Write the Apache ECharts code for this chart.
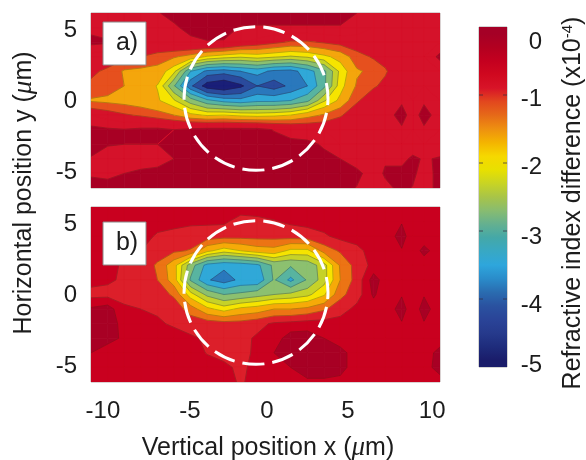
<!DOCTYPE html>
<html><head><meta charset="utf-8">
<style>html,body{margin:0;padding:0;background:#fff}#c{width:586px;height:460px}</style>
<script src="https://cdn.jsdelivr.net/npm/echarts@6/dist/echarts.min.js"></script>
</head><body><div id="c"></div>
<script>
var xNodes=[-10.76,-9.74,-8.73,-7.71,-6.69,-5.69,-4.67,-3.65,-2.63,-1.61,-0.59,0.43,1.45,2.47,3.49,4.48,5.5,6.52,7.22,8.24,8.91,9.6,10.58];
var yNodes=[6.2,5.175,4.15,3.125,2.1,1.075,0.05,-0.975,-2,-3.025,-4.05,-5.075,-6.1];
var panelA=[
[-0.5,-0.5,-0.5,-0.5,-0.32,-0.2,-0.15,-0.15,-0.15,-0.15,-0.15,-0.15,-0.15,-0.15,-0.15,-0.15,-0.3,-0.6,-0.6,-0.6,-0.6,-0.6,-0.6],
[-0.4,-0.5,-0.55,-0.55,-0.5,-0.35,-0.2,-0.15,-0.2,-0.32,-0.33,-0.33,-0.33,-0.33,-0.33,-0.33,-0.5,-0.6,-0.6,-0.6,-0.6,-0.6,-0.6],
[-0.2,-0.25,-0.5,-0.6,-0.55,-0.45,-0.38,-0.32,-0.32,-0.55,-0.7,-0.85,-1.0,-1.0,-0.9,-0.8,-0.7,-0.6,-0.6,-0.6,-0.6,-0.6,-0.6],
[-0.75,-0.8,-0.85,-0.95,-1.1,-1.25,-1.45,-1.75,-1.9,-2.0,-1.9,-2.0,-2.1,-2.0,-1.8,-1.55,-1.1,-0.9,-0.8,-0.65,-0.6,-0.6,-0.2],
[-0.9,-1.0,-1.35,-1.4,-1.45,-1.95,-3.2,-3.7,-3.8,-3.6,-3.45,-3.7,-3.75,-3.4,-2.9,-1.95,-1.35,-1.2,-1.0,-0.65,-0.6,-0.6,-0.6],
[-1.0,-1.1,-1.3,-1.5,-1.72,-2.75,-3.9,-4.75,-4.95,-4.6,-4.0,-4.2,-3.9,-3.6,-2.9,-1.85,-1.25,-1.0,-0.85,-0.6,-0.6,-0.6,-0.6],
[-1.35,-1.4,-1.45,-1.55,-1.65,-2.0,-2.6,-3.1,-3.35,-3.45,-3.3,-3.3,-3.2,-2.9,-2.1,-1.6,-1.0,-0.7,-0.6,-0.4,-0.6,-0.4,-0.6],
[-0.6,-0.75,-0.9,-1.0,-1.15,-1.3,-1.6,-1.75,-1.7,-1.8,-1.85,-1.8,-1.7,-1.45,-1.25,-1.0,-0.7,-0.6,-0.6,-0.05,-0.6,-0.05,-0.6],
[-0.2,-0.25,-0.28,-0.22,-0.2,-0.3,-0.2,-0.15,-0.15,-0.15,-0.15,-0.32,-0.45,-0.55,-0.6,-0.6,-0.6,-0.6,-0.6,-0.4,-0.6,-0.4,-0.6],
[-0.2,-0.27,-0.3,-0.3,-0.3,-0.25,-0.15,-0.15,-0.15,-0.15,-0.15,-0.15,-0.2,-0.2,-0.35,-0.6,-0.6,-0.6,-0.6,-0.6,-0.6,-0.6,-0.6],
[-0.32,-0.5,-0.55,-0.55,-0.5,-0.3,-0.15,-0.15,-0.15,-0.15,-0.15,-0.15,-0.15,-0.15,-0.2,-0.3,-0.5,-0.32,-0.35,-0.45,-0.2,-0.35,-0.25],
[-0.35,-0.4,-0.3,-0.2,-0.15,-0.15,-0.15,-0.15,-0.15,-0.15,-0.15,-0.15,-0.15,-0.15,-0.15,-0.15,-0.2,-0.5,-0.25,-0.15,-0.2,-0.5,-0.15],
[-0.15,-0.15,-0.15,-0.15,-0.15,-0.15,-0.15,-0.15,-0.15,-0.15,-0.15,-0.15,-0.15,-0.15,-0.15,-0.15,-0.32,-0.6,-0.4,-0.2,-0.32,-0.5,-0.15]
];
var panelB=[
[-0.45,-0.45,-0.45,-0.45,-0.45,-0.55,-0.45,-0.45,-0.45,-0.45,-0.45,-0.45,-0.45,-0.45,-0.45,-0.45,-0.45,-0.45,-0.45,-0.45,-0.45,-0.45,-0.45],
[-0.45,-0.45,-0.45,-0.45,-0.45,-0.5,-0.55,-0.55,-0.55,-0.72,-0.68,-0.62,-0.55,-0.5,-0.45,-0.45,-0.45,-0.45,-0.45,-0.32,-0.45,-0.45,-0.45],
[-0.45,-0.45,-0.45,-0.45,-0.65,-0.7,-0.72,-0.75,-0.8,-0.82,-0.82,-0.82,-0.78,-0.75,-0.65,-0.5,-0.45,-0.45,-0.45,-0.2,-0.45,-0.45,-0.45],
[-0.45,-0.45,-0.45,-0.6,-0.78,-0.88,-0.98,-1.6,-1.9,-1.7,-1.5,-1.45,-1.8,-1.8,-1.15,-0.9,-0.7,-0.45,-0.45,-0.32,-0.45,-0.22,-0.45],
[-0.45,-0.5,-0.65,-0.75,-1.0,-1.55,-2.6,-3.35,-3.5,-3.45,-3.3,-2.7,-2.75,-2.65,-2.2,-1.25,-0.8,-0.5,-0.45,-0.45,-0.45,-0.45,-0.45],
[-0.5,-0.55,-0.65,-0.72,-0.95,-1.5,-2.85,-3.55,-3.8,-3.5,-3.5,-2.75,-3.3,-2.75,-2.2,-1.3,-0.8,-0.15,-0.45,-0.45,-0.45,-0.45,-0.45],
[-0.7,-0.7,-0.7,-0.72,-0.8,-1.0,-1.9,-2.5,-2.8,-2.7,-2.55,-2.4,-2.3,-2.15,-1.75,-1.05,-0.75,-0.25,-0.5,-0.32,-0.45,-0.32,-0.45],
[-0.25,-0.15,-0.55,-0.6,-0.65,-0.75,-1.1,-1.6,-1.85,-1.6,-1.5,-1.3,-1.3,-1.2,-1.0,-0.75,-0.5,-0.45,-0.45,-0.2,-0.45,-0.2,-0.45],
[-0.15,-0.15,-0.4,-0.5,-0.55,-0.65,-0.75,-0.75,-0.8,-0.8,-0.7,-0.55,-0.5,-0.45,-0.45,-0.45,-0.45,-0.45,-0.45,-0.32,-0.45,-0.32,-0.45],
[-0.15,-0.2,-0.35,-0.45,-0.45,-0.45,-0.55,-0.65,-0.75,-0.7,-0.55,-0.45,-0.15,-0.15,-0.3,-0.45,-0.45,-0.45,-0.45,-0.45,-0.45,-0.45,-0.45],
[-0.3,-0.45,-0.45,-0.45,-0.45,-0.45,-0.45,-0.62,-0.75,-0.75,-0.5,-0.3,-0.1,-0.25,-0.15,-0.2,-0.45,-0.45,-0.45,-0.45,-0.45,-0.45,-0.2],
[-0.45,-0.45,-0.45,-0.45,-0.45,-0.45,-0.45,-0.45,-0.5,-0.7,-0.45,-0.45,-0.3,-0.15,-0.15,-0.2,-0.45,-0.45,-0.45,-0.45,-0.45,-0.45,-0.15],
[-0.45,-0.45,-0.45,-0.45,-0.45,-0.45,-0.45,-0.45,-0.45,-0.65,-0.45,-0.45,-0.38,-0.35,-0.35,-0.38,-0.45,-0.45,-0.45,-0.45,-0.45,-0.45,-0.45]
];
var contourLevels=[-0.3,-0.6,-0.95,-1.3,-1.7,-2.05,-2.4,-2.8,-3.2,-3.6,-4.0,-4.5];
var bandColorsA=['#a80024','#d5122a','#d5122a','#e6501e','#f4a60c','#f6e400','#c6d228','#8cc070','#58b4a0','#30a8d8','#2a78bc','#2a4a9c','#1a1f78'];
var bandColorsB=['#a80024','#c9001f','#dc1f2a','#ec7414','#f6aa08','#f6e400','#c6d228','#8cc070','#58b4a0','#30a8d8','#2a78bc','#2a4a9c','#1a1f78'];
var circle=[[-0.67,0.19,4.4,5.05]];
var xTickValues=[-10.03,-4.71,0,4.95,10.1];
var yTickValues=[5,0,-5];
var colorbarRange=[[0,-5]];
var colorbarColors=['#a50026','#b30020','#c4001f','#d0081f','#d81428','#e2481e','#e66a18','#ee9010','#f4b400','#f6d800','#e8e000','#c8d424','#a8c448','#88bc70','#64b090','#44a8a8','#38a8c4','#2ea6dc','#2a8cca','#2a6cb0','#2a52a0','#2a4498','#263a8c','#1e2c7c','#1a1c6a'];
var colorbarTicks=[-1,-2,-3,-4];
var colorbarLabelValues=[-0.22,-1.06,-2.07,-3.09,-4.09,-4.97];

function cellCorners(rows,api,i,j){
  return [
    {p:api.coord([xNodes[i],yNodes[j]]),v:rows[j][i]},
    {p:api.coord([xNodes[i+1],yNodes[j]]),v:rows[j][i+1]},
    {p:api.coord([xNodes[i+1],yNodes[j+1]]),v:rows[j+1][i+1]},
    {p:api.coord([xNodes[i],yNodes[j+1]]),v:rows[j+1][i]}];
}
function cross(a,b,L){
  var t=(L-a.v)/(b.v-a.v);
  return [a.p[0]+t*(b.p[0]-a.p[0]),a.p[1]+t*(b.p[1]-a.p[1])];
}
function eachCell(fn){
  for(var j=0;j<yNodes.length-1;j++)for(var i=0;i<xNodes.length-1;i++)fn(i,j);
}
// data item = one band; every band paints the region at or below its upper contour
function fillRender(rows,colors){
  return function(params,api){
    var k=api.value(0),kids=[],col=colors[k];
    eachCell(function(i,j){
      var c=cellCorners(rows,api,i,j),pts=[];
      if(k===0){pts=[c[0].p,c[1].p,c[2].p,c[3].p];}
      else{
        var L=contourLevels[k-1];
        for(var n=0;n<4;n++){
          var a=c[n],b=c[(n+1)%4];
          if(a.v<=L)pts.push(a.p);
          if((a.v<=L)!==(b.v<=L))pts.push(cross(a,b,L));
        }
      }
      if(pts.length>2)kids.push({type:'polygon',shape:{points:pts},style:{fill:col,stroke:col,lineWidth:0.8}});
    });
    return {type:'group',children:kids};
  };
}
function lineRender(rows,colors){
  return function(params,api){
    var k=api.value(0),kids=[],L=contourLevels[k];
    if(colors[k]===colors[k+1])return {type:'group',children:[]};
    eachCell(function(i,j){
      var c=cellCorners(rows,api,i,j),pts=[];
      for(var n=0;n<4;n++){
        var a=c[n],b=c[(n+1)%4];
        if((a.v<=L)!==(b.v<=L))pts.push(cross(a,b,L));
      }
      for(var m=0;m+1<pts.length;m+=2){
        kids.push({type:'line',shape:{x1:pts[m][0],y1:pts[m][1],x2:pts[m+1][0],y2:pts[m+1][1]},
          style:{stroke:'rgba(40,30,30,0.4)',lineWidth:0.7}});
      }
    });
    return {type:'group',children:kids};
  };
}
function circleRender(params,api){
  var c=api.coord([api.value(0),api.value(1)]);
  var s=api.size([api.value(2),api.value(3)]);
  return {type:'ellipse',shape:{cx:c[0],cy:c[1],rx:s[0],ry:s[1]},
    style:{fill:'none',stroke:'#fff',lineWidth:3,lineDash:[22,8]}};
}
function panelSeries(rows,colors,idx){
  var bands=colors.map(function(c,k){return [k];});
  var lines=contourLevels.map(function(l,k){return [k];});
  return [
    {type:'custom',xAxisIndex:idx,yAxisIndex:idx,clip:true,silent:true,encode:{x:-1,y:-1},data:bands,renderItem:fillRender(rows,colors),z:2},
    {type:'custom',xAxisIndex:idx,yAxisIndex:idx,clip:true,silent:true,encode:{x:-1,y:-1},data:lines,renderItem:lineRender(rows,colors),z:3},
    {type:'custom',xAxisIndex:idx,yAxisIndex:idx,clip:true,silent:true,encode:{x:0,y:1},data:circle,renderItem:circleRender,z:4}
  ];
}
var FONT='"Liberation Sans",Arial,sans-serif';
var TXT='#1c1c1c';
function mainX(idx,show){
  return {type:'value',gridIndex:idx,min:-10.76,max:10.58,splitLine:{show:false},axisLine:{show:false},axisTick:{show:false},
    axisLabel:{show:show,customValues:xTickValues,margin:17,fontFamily:FONT,fontSize:24,color:TXT,hideOverlap:false,
      formatter:function(v){return String(5*Math.round(v/5));}}};
}
function mainY(idx){
  return {type:'value',gridIndex:idx,min:-6.1,max:6.2,splitLine:{show:false},axisLine:{show:false},axisTick:{show:false},
    axisLabel:{customValues:yTickValues,margin:14,fontFamily:FONT,fontSize:24,color:TXT,hideOverlap:false,
      formatter:function(v){return String(v);}}};
}
function box(x,y,label){
  return [
    {type:'rect',z:99,shape:{x:x,y:y,width:43,height:43},style:{fill:'#fff',stroke:'#8a8a8a',lineWidth:1}},
    {type:'text',z:100,x:x+24,y:y+21,style:{text:label,fill:TXT,font:'25px '+FONT,align:'center',verticalAlign:'middle'}}
  ];
}
var base={fontFamily:FONT,fontSize:25,fill:TXT};
var mu={fontFamily:'"Liberation Serif",serif',fontStyle:'italic',fontSize:27,fill:TXT};
var barStops=colorbarColors.map(function(c,i){return {offset:(i+0.5)/colorbarColors.length,color:c};});
var option={
  animation:false,backgroundColor:'#fff',
  grid:[
    {left:91,top:13,width:349,height:175,show:true,borderColor:'#b5a5a5',borderWidth:1,backgroundColor:'transparent'},
    {left:91,top:207,width:349,height:175,show:true,borderColor:'#b5a5a5',borderWidth:1,backgroundColor:'transparent'},
    {left:479,top:27,width:28,height:340,show:true,borderColor:'#aaa',borderWidth:1,backgroundColor:'transparent'}
  ],
  xAxis:[mainX(0,false),mainX(1,true),{type:'value',gridIndex:2,min:0,max:1,show:false}],
  yAxis:[mainY(0),mainY(1),
    {type:'value',gridIndex:2,min:-5,max:0,position:'right',splitLine:{show:false},axisLine:{show:false},axisTick:{show:false},
      axisLabel:{customValues:colorbarLabelValues,margin:35,align:'right',fontFamily:FONT,fontSize:24,color:TXT,hideOverlap:false,
        formatter:function(v){var r=Math.round(v);return r===0?'0':String(r);}}}
  ],
  series:panelSeries(panelA,bandColorsA,0).concat(panelSeries(panelB,bandColorsB,1)).concat([
    {type:'custom',xAxisIndex:2,yAxisIndex:2,silent:true,encode:{y:[0,1]},data:colorbarRange,z:2,
      renderItem:function(params,api){
        var a=api.coord([0,api.value(0)]),b=api.coord([1,api.value(1)]);
        return {type:'rect',shape:{x:a[0],y:a[1],width:b[0]-a[0],height:b[1]-a[1]},
          style:{fill:new echarts.graphic.LinearGradient(0,0,0,1,barStops)}};
      }},
    {type:'custom',xAxisIndex:2,yAxisIndex:2,silent:true,encode:{y:0},data:colorbarTicks.map(function(v){return [v];}),z:3,
      renderItem:function(params,api){
        var a=api.coord([0,api.value(0)]),b=api.coord([1,api.value(0)]),st={stroke:'rgba(50,40,60,0.7)',lineWidth:1};
        return {type:'group',children:[
          {type:'line',shape:{x1:a[0],y1:a[1],x2:a[0]+4,y2:a[1]},style:st},
          {type:'line',shape:{x1:b[0]-4,y1:b[1],x2:b[0],y2:b[1]},style:st}]};
      }}
  ]),
  graphic:{elements:[].concat(box(103,22,'a)'),box(103,222,'b)'),[
    {type:'text',z:100,x:268,y:448,style:{text:'{a|Vertical position x (}{m|μ}{a|m)}',rich:{a:base,m:mu},align:'center',verticalAlign:'middle'}},
    {type:'text',z:100,x:24,y:193,rotation:Math.PI/2,style:{text:'{a|Horizontal position y (}{m|μ}{a|m)}',rich:{a:base,m:mu},align:'center',verticalAlign:'middle'}},
    {type:'text',z:100,x:573,y:203,rotation:Math.PI/2,style:{text:'{a|Refractive index difference (x10}{s|-4}{a|)}',
      rich:{a:base,s:{fontFamily:FONT,fontSize:15,fill:TXT,verticalAlign:'top'}},align:'center',verticalAlign:'middle'}}
  ])}
};
var chart=echarts.init(document.getElementById('c'),null,{renderer:'canvas'});
chart.setOption(option);
</script></body></html>
